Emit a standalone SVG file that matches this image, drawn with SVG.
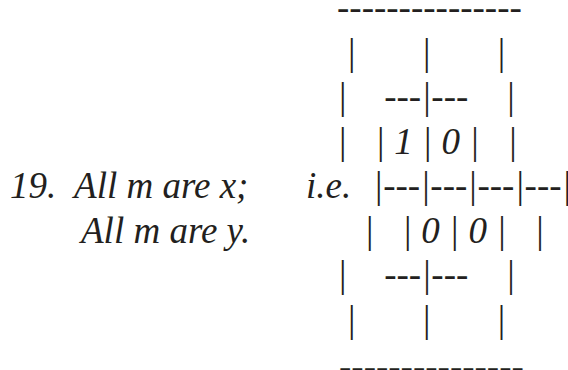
<svg xmlns="http://www.w3.org/2000/svg" width="568" height="370" viewBox="0 0 568 370">
<style>
text{font-family:"Liberation Serif","Times New Roman",serif;font-style:italic;font-size:37px;fill:#231f20;white-space:pre}
</style>
<rect width="568" height="370" fill="#fff"/>
<g id="premises">
<text x="10" y="198" xml:space="preserve">19.  All m are x;</text>
<text x="81" y="242.5" xml:space="preserve">All m are y.</text>
</g>
<g id="diagram">
<text x="306" y="198" xml:space="preserve">i.e.</text>
<text x="337" y="20" xml:space="preserve">---------------</text>
<text x="346" y="64.5" xml:space="preserve">|       |       |</text>
<text x="337" y="109" xml:space="preserve">|    ---|---    |</text>
<text x="337" y="153.5" xml:space="preserve">|   | 1 | 0 |   |</text>
<text x="373" y="198" xml:space="preserve">|---|---|---|---|</text>
<text x="364" y="242.5" xml:space="preserve">|   | 0 | 0 |   |</text>
<text x="337" y="287" xml:space="preserve">|    ---|---    |</text>
<text x="346" y="331.5" xml:space="preserve">|       |       |</text>
<text x="339" y="378.5" xml:space="preserve">---------------</text>
</g>
</svg>
